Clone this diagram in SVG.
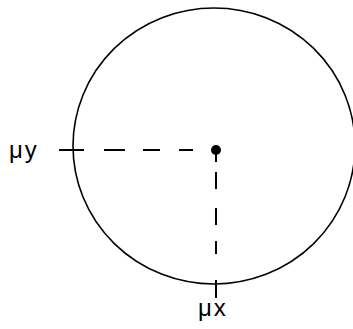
<svg xmlns="http://www.w3.org/2000/svg" width="353" height="329" viewBox="0 0 353 329">
<style>
.ln{stroke:#000;stroke-width:2;fill:none}
.circ{stroke:#000;stroke-width:1.6;fill:none}
.lbl{font-family:"Liberation Sans",Arial,sans-serif;font-size:24px;letter-spacing:2px;fill:#000}
</style>
<rect width="353" height="329" fill="#fff"/>
<g id="circle"><ellipse class="circ" cx="214" cy="146" rx="141" ry="138"/></g>
<g id="center"><circle cx="216" cy="150" r="5" fill="#000"/><line class="ln" x1="216" y1="150" x2="216" y2="162"/></g>
<g id="connectors">
<line class="ln" x1="59" y1="150" x2="84" y2="150"/>
<line class="ln" x1="104" y1="150" x2="125" y2="150"/>
<line class="ln" x1="143" y1="150" x2="160" y2="150"/>
<line class="ln" x1="179" y1="150" x2="193" y2="150"/>
<line class="ln" x1="216" y1="172" x2="216" y2="189"/>
<line class="ln" x1="216" y1="208" x2="216" y2="225"/>
<line class="ln" x1="216" y1="241" x2="216" y2="254"/>
<line class="ln" x1="216" y1="280" x2="216" y2="298"/>
</g>
<g id="labels">
<text class="lbl" x="9" y="158">μy</text>
<text class="lbl" x="198" y="316">μx</text>
</g>
</svg>
